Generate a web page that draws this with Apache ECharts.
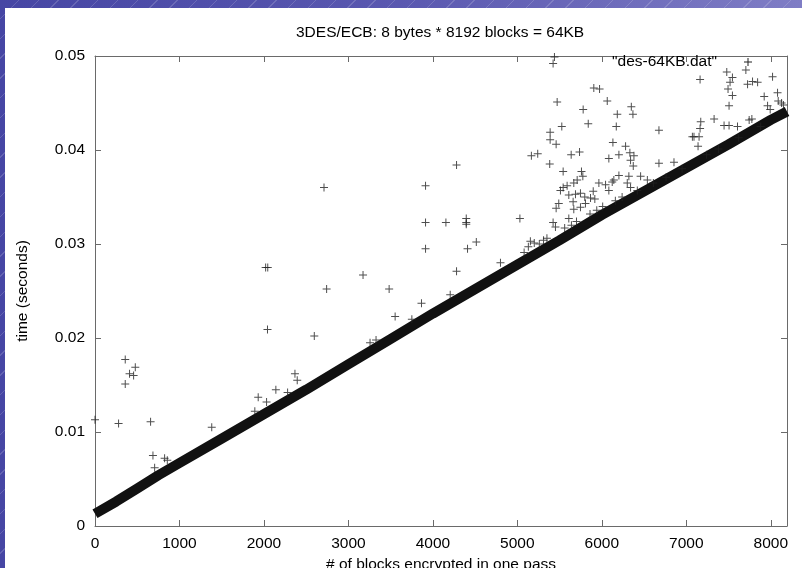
<!DOCTYPE html>
<html><head><meta charset="utf-8">
<script src="https://cdn.jsdelivr.net/npm/echarts@6/dist/echarts.min.js"></script>
<style>
html,body{margin:0;padding:0;width:802px;height:568px;overflow:hidden;}
body{background:
 repeating-linear-gradient(135deg, rgba(255,255,255,0) 0px, rgba(255,255,255,0) 13px, rgba(255,255,255,0.16) 13px, rgba(255,255,255,0.16) 14px),
 linear-gradient(90deg,#4646a4 0%,#5a58b0 50%,#7f7dc5 100%);}
#paper{position:absolute;left:5px;top:8px;width:797px;height:560px;background:#fff;}
#chart{position:absolute;left:0;top:0;width:802px;height:568px;}
</style></head>
<body>
<div id="paper"></div>
<div id="chart"></div>
<script>
// ---- data ----
const xTickValues = [0, 1000, 2000, 3000, 4000, 5000, 6000, 7000, 8000];
const yTickLabels = ['0', '0.01', '0.02', '0.03', '0.04', '0.05'];
const seriesName = '"des-64KB.dat"';

// dense band of measurements (centre of the black band), [blocks, seconds]
const bandBlocks = [0, 250, 500, 750, 1000, 1500, 2000, 2500, 3000, 3500, 4000, 4500, 5000, 5500, 6000, 6500, 7000, 7500, 8000, 8192];
const bandTimes  = [0.0013, 0.0026, 0.0040, 0.0054, 0.0067, 0.0093, 0.0119, 0.0145, 0.0172, 0.0199, 0.0226, 0.0252, 0.0278, 0.0304, 0.0331, 0.0356, 0.0381, 0.0406, 0.0432, 0.0441];

// scattered slow measurements
const outlierBlocks = [0, 279, 358, 477, 409, 457, 358, 658, 686, 706, 824, 856, 1382, 1892, 1932, 2031, 2141, 2280, 2367, 2394,
  2020, 2045, 2042, 2596, 2711, 2742, 3173, 3256, 3327, 3482, 3553, 3751, 3865, 3913, 3913, 3913, 4154, 4205, 4280, 4280,
  4395, 4395, 4395, 4410, 4514, 4800, 5030, 5154, 5200, 5166, 5241, 5383, 5388, 5388, 5423, 5439, 5459, 5471, 5423, 5451,
  5459, 5490, 5510, 5526, 5542, 5542, 5589, 5609, 5609, 5637, 5660, 5668, 5668, 5688, 5708, 5736, 5747, 5747, 5759, 5775,
  5779, 5798, 5806, 5839, 5866, 5898, 5905, 5917, 5965, 5973, 6044, 6064, 6083, 6083, 6123, 6131, 6142, 6171, 6183, 6202,
  6202, 6281, 6301, 6320, 6332, 6340, 6340, 6349, 6368, 6372, 6380, 6459, 6539, 6676, 6676, 6854, 7072, 7091, 7139, 7151,
  7163, 7163, 7171, 7329, 7447, 7479, 7494, 7506, 7506, 7518, 7546, 7546, 7606, 7705, 7725, 7744, 7776, 7784, 7844, 7922,
  7962, 7993, 8021, 8080, 8088, 8128,
  // points hugging the upper edge of the band
  5080, 5130, 5260, 5310, 5350, 5560, 5640, 5700, 5860, 5940, 6010, 6160, 6240, 6420, 6610, 6760, 6950, 7240, 7380, 7620, 7880, 8150];
const outlierTimes = [0.0113, 0.0109, 0.0177, 0.0169, 0.0162, 0.0160, 0.0151, 0.0111, 0.0075, 0.0062, 0.0072, 0.0070, 0.0105, 0.0122, 0.0137, 0.0132, 0.0145, 0.0142, 0.0162, 0.0155,
  0.0275, 0.0275, 0.0209, 0.0202, 0.0360, 0.0252, 0.0267, 0.0195, 0.0198, 0.0252, 0.0223, 0.0220, 0.0237, 0.0362, 0.0323, 0.0295, 0.0323, 0.0246, 0.0384, 0.0271,
  0.0327, 0.0323, 0.0321, 0.0295, 0.0302, 0.0280, 0.0327, 0.0303, 0.0301, 0.0394, 0.0396, 0.0385, 0.0419, 0.0411, 0.0492, 0.0499, 0.0406, 0.0451, 0.0323, 0.0318,
  0.0338, 0.0343, 0.0357, 0.0425, 0.0377, 0.0360, 0.0362, 0.0352, 0.0327, 0.0395, 0.0345, 0.0365, 0.0337, 0.0353, 0.0368, 0.0398, 0.0354, 0.0339, 0.0377, 0.0372,
  0.0443, 0.0350, 0.0343, 0.0428, 0.0349, 0.0356, 0.0466, 0.0348, 0.0365, 0.0465, 0.0363, 0.0452, 0.0391, 0.0357, 0.0366, 0.0408, 0.0368, 0.0425, 0.0438, 0.0395,
  0.0373, 0.0404, 0.0365, 0.0372, 0.0397, 0.0389, 0.0360, 0.0446, 0.0438, 0.0383, 0.0394, 0.0372, 0.0368, 0.0421, 0.0386, 0.0387, 0.0414, 0.0414, 0.0404, 0.0414,
  0.0475, 0.0423, 0.0430, 0.0433, 0.0426, 0.0483, 0.0465, 0.0447, 0.0426, 0.0472, 0.0477, 0.0458, 0.0425, 0.0485, 0.0470, 0.0432, 0.0433, 0.0473, 0.0472, 0.0457,
  0.0447, 0.0443, 0.0478, 0.0461, 0.0452, 0.0450,
  0.0291, 0.0297, 0.0300, 0.0304, 0.0306, 0.0317, 0.0320, 0.0324, 0.0332, 0.0336, 0.0340, 0.0346, 0.0350, 0.0357, 0.0365, 0.0371, 0.0380, 0.0395, 0.0401, 0.0413, 0.0425, 0.0448];

// ---- chart ----
const plus = 'path://M3.5,0h1v3.5h3.5v1h-3.5v3.5h-1v-3.5h-3.5v-1h3.5z';
const font = 'Liberation Sans, Arial, Helvetica, sans-serif';
const axisGray = '#6a6a6a';

const bandData = bandBlocks.map((b, i) => [b, bandTimes[i]]);
const outlierData = outlierBlocks.map((b, i) => [b, outlierTimes[i]]);

const chart = echarts.init(document.getElementById('chart'), null, {renderer: 'canvas'});
const common = {
  min: 0,
  axisLine: {show: true, onZero: false, lineStyle: {color: axisGray, width: 1}},
  axisTick: {show: true, inside: true, length: 6, lineStyle: {color: axisGray, width: 1}},
  splitLine: {show: false}
};
chart.setOption({
  animation: false,
  backgroundColor: 'transparent',
  color: ['#111'],
  title: {
    text: '3DES/ECB: 8 bytes * 8192 blocks = 64KB',
    left: 296, top: 25, padding: 0,
    textStyle: {fontFamily: font, fontSize: 15.5, fontWeight: 'normal', color: '#000'}
  },
  legend: {
    data: [{name: seriesName, icon: plus, itemStyle: {color: '#222'}}],
    right: 50, top: 54, padding: 0, align: 'right',
    itemWidth: 8, itemHeight: 8,
    textStyle: {fontFamily: font, fontSize: 15.5, color: '#000', padding: [0, 22, 0, 0]}
  },
  grid: {left: 95, right: 15, top: 56, bottom: 42, containLabel: false, outerBoundsMode: 'none'},
  xAxis: [
    Object.assign({}, common, {
      type: 'value', max: 8192, interval: 1000, position: 'bottom',
      name: '# of blocks encrypted in one pass', nameLocation: 'middle', nameGap: 30,
      nameTextStyle: {fontFamily: font, fontSize: 15.5, color: '#000'},
      axisLabel: {
        margin: 10, fontFamily: font, fontSize: 15.5, color: '#000',
        formatter: v => (xTickValues.indexOf(v) >= 0 ? String(v) : '')
      }
    }),
    Object.assign({}, common, {
      type: 'value', max: 8192, interval: 1000, position: 'top', axisLabel: {show: false}
    })
  ],
  yAxis: [
    Object.assign({}, common, {
      type: 'value', max: 0.05, interval: 0.01, position: 'left',
      name: 'time (seconds)', nameLocation: 'middle', nameGap: 64,
      nameTextStyle: {fontFamily: font, fontSize: 15.5, color: '#000'},
      axisLabel: {
        margin: 10, fontFamily: font, fontSize: 15.5, color: '#000',
        formatter: v => { const i = Math.round(v / 0.01); return yTickLabels[i] !== undefined ? yTickLabels[i] : ''; }
      }
    }),
    Object.assign({}, common, {
      type: 'value', max: 0.05, interval: 0.01, position: 'right', axisLabel: {show: false}
    })
  ],
  series: [
    {
      name: seriesName, type: 'line', data: bandData, symbol: 'none',
      itemStyle: {color: '#111'},
      lineStyle: {color: '#111', width: 10}, z: 2, silent: true
    },
    {
      name: seriesName, type: 'scatter', data: outlierData, symbol: plus, symbolSize: 8,
      itemStyle: {color: '#222'}, z: 3, clip: true
    }
  ]
});
</script>
</body></html>
